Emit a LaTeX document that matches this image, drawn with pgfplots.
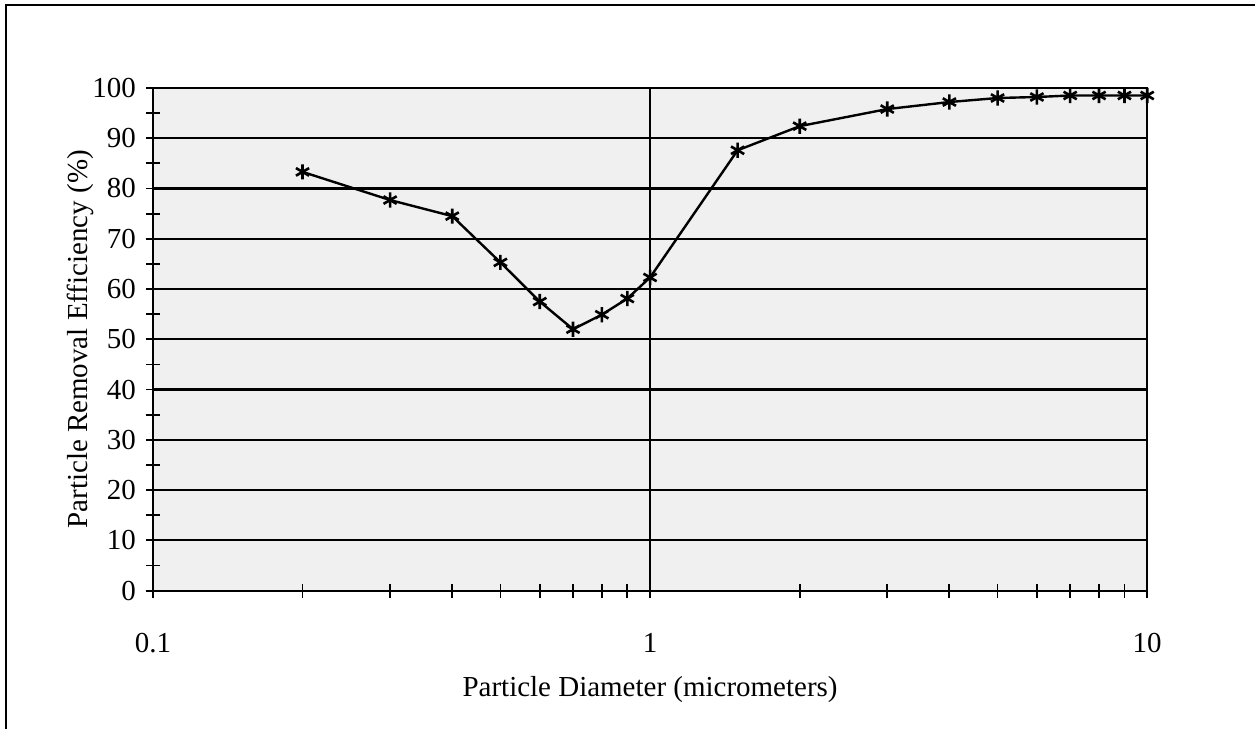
\documentclass[border=0pt]{standalone}
\usepackage{fontspec}
\setmainfont{Liberation Serif}
\usepackage{pgfplots}
\pgfplotsset{compat=1.18}
\pgfplotstableread{
x y
0.2 83.3
0.3 77.7
0.4 74.5
0.5 65.3
0.6 57.5
0.7 52.0
0.8 54.9
0.9 58.1
1.0 62.3
1.5 87.6
2 92.4
3 95.8
4 97.2
5 98.0
6 98.2
7 98.5
8 98.5
9 98.5
10 98.5
}\datatable
\begin{document}
\begin{tikzpicture}
\begin{axis}[
  scale only axis,
  width=497.5pt, height=251.5pt,
  xmode=log,
  xmin=0.1, xmax=10,
  ymin=0, ymax=100,
  xtick={0.1,1,10},
  xticklabels={0.1,1,10},
  ytick={0,10,...,100},
  minor y tick num=1,
  tick pos=left,
  tick align=center,
  major tick length=7pt,
  minor tick length=7pt,
  every tick/.style={black, line width=0.9pt},
  grid=major,
  major grid style={black, line width=1.1pt},
  axis line style={black, line width=1.1pt},
  axis background/.style={fill=black!6},
  /pgf/number format/assume math mode=true,
  tick label style={font=\fontsize{14.5}{17}\selectfont},
  xticklabel style={anchor=center, yshift=-22.5pt},
  yticklabel style={xshift=-1.5pt},
  xlabel={Particle Diameter (micrometers)},
  ylabel={Particle Removal Efficiency (\%)},
  every axis x label/.style={at={(rel axis cs:0.5,-0.197)}, anchor=center, font=\fontsize{14.5}{17}\selectfont},
  every axis y label/.style={at={(rel axis cs:-0.0734,0.5)}, rotate=90, anchor=center, font=\fontsize{14.5}{17}\selectfont},
  clip=false,
]
\path (rel axis cs:-0.1538,-0.2744) rectangle (rel axis cs:1.1085,1.175);
\draw[black, line width=0.9pt] (rel axis cs:-0.1477,-0.2744) -- (rel axis cs:-0.1477,1.165) -- (rel axis cs:1.1085,1.165);
\addplot[black, line width=1.2pt, mark=asterisk, mark size=3.8pt, mark options={line width=1.3pt}] table[x=x,y=y] {\datatable};
\end{axis}
\end{tikzpicture}
\end{document}
